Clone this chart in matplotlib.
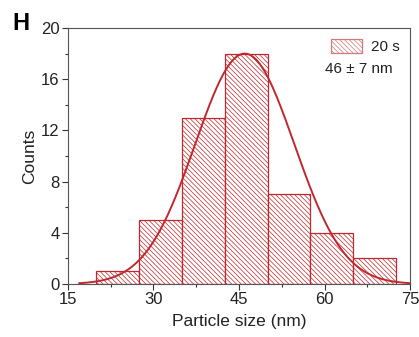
import numpy as np
import matplotlib
matplotlib.use("Agg")
import matplotlib.pyplot as plt

plt.rcParams['font.family'] = ['Liberation Sans', 'DejaVu Sans']
plt.rcParams['hatch.linewidth'] = 0.5

bin_edges = [20, 27.5, 35, 42.5, 50, 57.5, 65, 72.5]
counts = [1, 5, 13, 18, 7, 4, 2]
fit_mu = 46.0
fit_sigma = 8.7
fit_amp = 18.0
fit_range = (17.0, 75.0)
series_label = "20 s"
size_text = "46 ± 7 nm"

red = '#c0282d'

fig = plt.figure(figsize=(4.19, 3.37), dpi=100)
ax = fig.add_axes([0.162, 0.157, 0.817, 0.76])

edges = np.array(bin_edges)
widths = np.diff(edges)
plt.rcParams['hatch.color'] = '#c04a4e'
ax.bar(edges[:-1], counts, width=widths, align='edge', facecolor='white',
       edgecolor=red, hatch='\\' * 7, linewidth=0.9, label=series_label, zorder=2)

xs = np.linspace(fit_range[0], fit_range[1], 400)
ys = fit_amp * np.exp(-(xs - fit_mu) ** 2 / (2 * fit_sigma ** 2))
ax.plot(xs, ys, color=red, lw=1.4, zorder=3)

ax.set_xlim(15, 75)
ax.set_ylim(0, 20)
ax.set_xticks([15, 30, 45, 60, 75])
ax.set_yticks([0, 4, 8, 12, 16, 20])
ax.set_xticks(np.arange(22.5, 75, 15), minor=True)
ax.set_yticks(np.arange(2, 20, 4), minor=True)
ax.tick_params(which='major', direction='out', length=4, width=0.8, labelsize=12, colors='#333333', labelcolor='#222222', pad=2)
ax.tick_params(which='minor', direction='out', length=2, width=0.8, colors='#333333')
for s in ax.spines.values():
    s.set_color('#555555')
    s.set_linewidth(0.8)

ax.set_xlabel("Particle size (nm)", fontsize=12.5, labelpad=5, color='#222222')
ax.set_ylabel("Counts", fontsize=12.5, labelpad=3, color='#222222')

leg = ax.legend(loc='upper right', frameon=False, fontsize=11, handlelength=2.0,
                handleheight=1.1, borderaxespad=0.3, handletextpad=0.6)
for p in leg.get_patches():
    p.set_edgecolor('#d07a7d')
for t in leg.get_texts():
    t.set_color('#222222')
ax.text(0.95, 0.84, size_text, transform=ax.transAxes, ha='right', va='center', fontsize=11, color='#222222')

fig.text(0.03, 0.965, "H", fontsize=17, fontweight='bold', va='top', ha='left')

fig.savefig("out.png", dpi=100)
